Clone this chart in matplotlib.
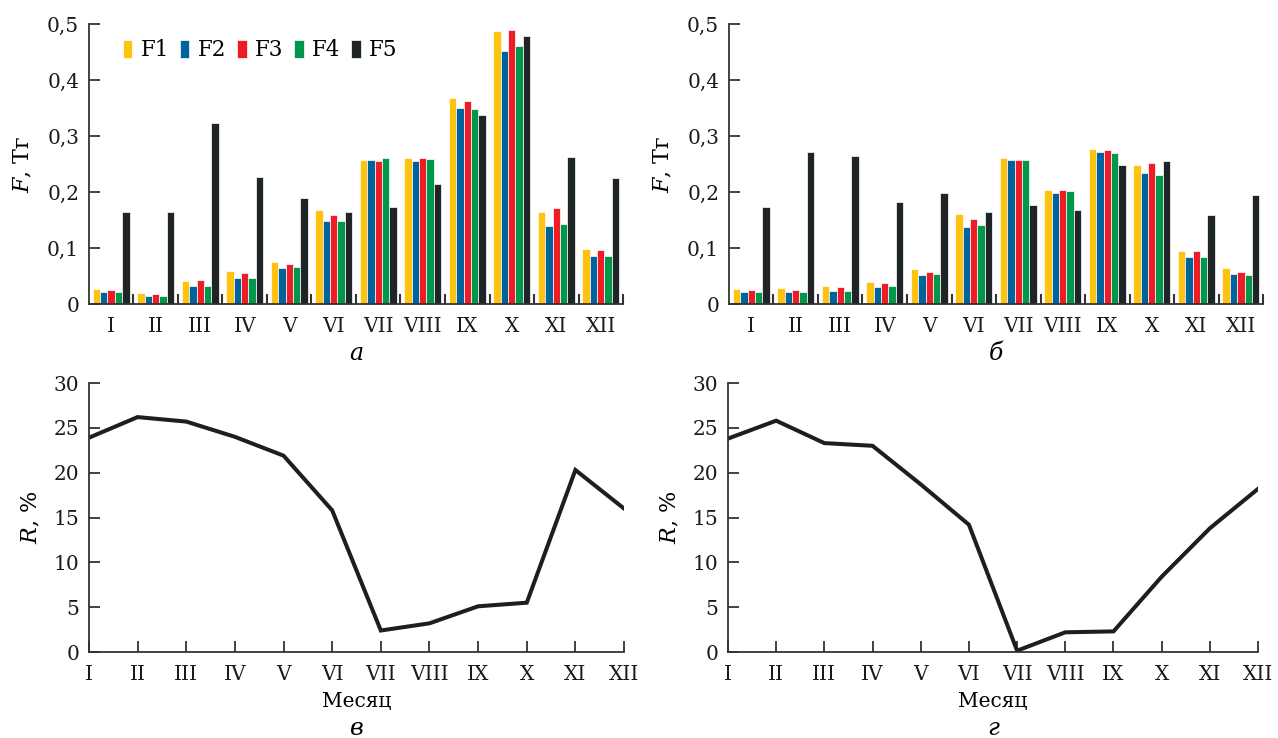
"""
Monthly fluxes F1..F5 (bars) and share R (lines), four panels.
"""

import numpy as np
import matplotlib.pyplot as plt
from matplotlib.ticker import FixedLocator, NullFormatter

months = ["I", "II", "III", "IV", "V", "VI", "VII", "VIII", "IX", "X", "XI", "XII"]
series_names = ["F1", "F2", "F3", "F4", "F5"]
colors = ["#ffc20f", "#00649c", "#ee1d25", "#00964b", "#1f2426"]

# panel a
a_f1 = [0.027, 0.020, 0.042, 0.059, 0.075, 0.168, 0.257, 0.261, 0.367, 0.488, 0.165, 0.099]
a_f2 = [0.021, 0.014, 0.033, 0.046, 0.065, 0.149, 0.257, 0.256, 0.350, 0.452, 0.140, 0.086]
a_f3 = [0.025, 0.018, 0.043, 0.056, 0.071, 0.159, 0.256, 0.260, 0.362, 0.489, 0.172, 0.096]
a_f4 = [0.021, 0.015, 0.033, 0.046, 0.067, 0.149, 0.260, 0.259, 0.348, 0.461, 0.143, 0.086]
a_f5 = [0.164, 0.165, 0.323, 0.227, 0.190, 0.164, 0.174, 0.214, 0.338, 0.479, 0.262, 0.225]

# panel b
b_f1 = [0.027, 0.028, 0.033, 0.040, 0.062, 0.161, 0.260, 0.204, 0.277, 0.249, 0.094, 0.064]
b_f2 = [0.021, 0.021, 0.024, 0.030, 0.051, 0.138, 0.257, 0.199, 0.271, 0.234, 0.084, 0.053]
b_f3 = [0.025, 0.025, 0.031, 0.037, 0.058, 0.151, 0.257, 0.203, 0.275, 0.251, 0.094, 0.058]
b_f4 = [0.022, 0.021, 0.024, 0.033, 0.054, 0.141, 0.257, 0.202, 0.270, 0.231, 0.084, 0.052]
b_f5 = [0.173, 0.271, 0.265, 0.183, 0.199, 0.164, 0.177, 0.168, 0.249, 0.255, 0.159, 0.195]

# panels c, d
r_c = [23.9, 26.2, 25.7, 24.0, 21.9, 15.8, 2.4, 3.2, 5.1, 5.5, 20.3, 16.0]
r_d = [23.8, 25.8, 23.3, 23.0, 18.7, 14.2, 0.15, 2.2, 2.3, 8.4, 13.8, 18.2]

f_ticks = [0, 0.1, 0.2, 0.3, 0.4, 0.5]
f_labels = ["0", "0,1", "0,2", "0,3", "0,4", "0,5"]
r_ticks = [0, 5, 10, 15, 20, 25, 30]

plt.rcParams.update({
    "font.family": "DejaVu Serif",
    "font.size": 14.5,
    "mathtext.fontset": "custom",
    "mathtext.rm": "DejaVu Serif",
    "mathtext.it": "DejaVu Serif:italic",
    "axes.linewidth": 1.3,
    "axes.edgecolor": "#333333",
    "xtick.color": "#333333",
    "ytick.color": "#333333",
    "xtick.labelcolor": "#1a1a1a",
    "ytick.labelcolor": "#1a1a1a",
})

fig = plt.figure(figsize=(12.78, 7.38), dpi=100)

ax_a = fig.add_axes([0.0696, 0.588, 0.4179, 0.3795])
ax_b = fig.add_axes([0.5704, 0.588, 0.4179, 0.3795])
ax_c = fig.add_axes([0.0696, 0.1165, 0.4187, 0.3645])
ax_d = fig.add_axes([0.5696, 0.1165, 0.4148, 0.3645])


def style_axes(ax):
    for side in ("top", "right"):
        ax.spines[side].set_visible(False)
    ax.tick_params(direction="in", length=8, width=1.3, pad=7)


def bar_panel(ax, data, letter):
    x = np.arange(len(months)) + 0.5
    w = 1 / 6
    for k, (vals, c, name) in enumerate(zip(data, colors, series_names)):
        ax.bar(x + (k - 2) * w, vals, width=w, color=c, edgecolor="white",
               linewidth=0.5, label=name)
    style_axes(ax)
    ax.set_xlim(0, 12)
    ax.set_ylim(0, 0.5)
    ax.set_yticks(f_ticks)
    ax.set_yticklabels(f_labels)
    ax.set_xticks(x)
    ax.set_xticklabels(months)
    ax.tick_params(axis="x", which="major", length=0, pad=9)
    ax.xaxis.set_minor_locator(FixedLocator(np.arange(1, 13)))
    ax.xaxis.set_minor_formatter(NullFormatter())
    ax.tick_params(axis="x", which="minor", direction="in", length=7, width=1.5)
    ax.set_ylabel("$F$, Тг", labelpad=9, fontsize=16)
    ax.text(0.5, -0.175, letter, transform=ax.transAxes, ha="center",
            va="center", style="italic", fontsize=17)


def line_panel(ax, vals, letter):
    x = np.arange(len(months))
    ax.plot(x, vals, color="#1e1e1e", lw=2.9, solid_joinstyle="miter")
    style_axes(ax)
    ax.set_xlim(0, 11)
    ax.set_ylim(0, 30)
    ax.set_yticks(r_ticks)
    ax.set_xticks(x)
    ax.set_xticklabels(months)
    ax.tick_params(axis="x", pad=9)
    ax.set_ylabel("$R$, %", labelpad=8, fontsize=16)
    ax.set_xlabel("Месяц", labelpad=6)
    ax.text(0.5, -0.285, letter, transform=ax.transAxes, ha="center",
            va="center", style="italic", fontsize=17)


bar_panel(ax_a, [a_f1, a_f2, a_f3, a_f4, a_f5], "а")
bar_panel(ax_b, [b_f1, b_f2, b_f3, b_f4, b_f5], "б")
line_panel(ax_c, r_c, "в")
line_panel(ax_d, r_d, "г")

ax_a.legend(loc="upper left", bbox_to_anchor=(0.064, 0.945), ncol=5, frameon=False,
            handlelength=0.43, handleheight=0.95, handletextpad=0.4,
            columnspacing=0.5, borderaxespad=0, borderpad=0, fontsize=15.5)

fig.savefig("out.png", dpi=100)
